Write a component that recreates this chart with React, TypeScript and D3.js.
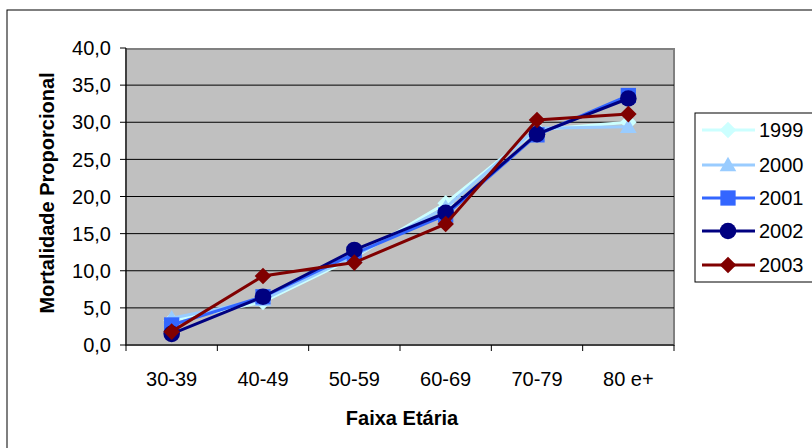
import React from "react";
import * as d3 from "d3";

const categories = ["30-39", "40-49", "50-59", "60-69", "70-79", "80 e+"];
const years = ["1999", "2000", "2001", "2002", "2003"];
const s1999 = [3.3, 5.8, 11.8, 19.1, 29.0, 30.0];
const s2000 = [3.6, 6.1, 12.0, 18.5, 29.2, 29.4];
const s2001 = [2.7, 6.5, 12.3, 17.5, 28.3, 33.6];
const s2002 = [1.5, 6.5, 12.8, 17.8, 28.4, 33.2];
const s2003 = [1.8, 9.3, 11.1, 16.3, 30.3, 31.1];
const yTicks = [0, 5, 10, 15, 20, 25, 30, 35, 40];

const seriesValues = [s1999, s2000, s2001, s2002, s2003];
const colors = ["#CCFFFF", "#99CCFF", "#3366FF", "#000080", "#800000"];
const markers = ["diamond", "triangle", "square", "circle", "diamond"];

const font = "'Liberation Sans', Arial, sans-serif";

function Marker({ type, x, y, color, size }: { type: string; x: number; y: number; color: string; size: number }) {
  const s = size;
  if (type === "diamond") {
    return <path d={`M${x},${y - s}L${x + s},${y}L${x},${y + s}L${x - s},${y}Z`} fill={color} />;
  }
  if (type === "triangle") {
    return <path d={`M${x},${y - s}L${x + s},${y + s * 0.75}L${x - s},${y + s * 0.75}Z`} fill={color} />;
  }
  if (type === "square") {
    return <rect x={x - s * 0.92} y={y - s * 0.92} width={s * 1.84} height={s * 1.84} fill={color} />;
  }
  return <circle cx={x} cy={y} r={s} fill={color} />;
}

export default function App() {
  const left = 126, right = 674, top = 49, bottom = 345;
  const x = d3.scaleBand<string>().domain(categories).range([left, right]);
  const y = d3.scaleLinear().domain([0, 40]).range([bottom, top - 1]);
  const line = d3
    .line<number>()
    .x((_, i) => (x(categories[i]) as number) + x.bandwidth() / 2)
    .y((d) => y(d));

  const legendY = [130, 165, 198, 231, 265];

  return (
    <svg width={812} height={448} style={{ position: "absolute", left: 0, top: 0, background: "#fff" }}>
      <rect x={7} y={10} width={830} height={460} fill="#fff" stroke="#000" strokeWidth={1} />
      <rect x={left} y={top} width={right - left} height={bottom - top} fill="#C0C0C0" stroke="#808080" strokeWidth={2} />
      {yTicks.map((t) => (
        <g key={t}>
          {t > 0 && t < 40 && <line x1={left} x2={right} y1={y(t)} y2={y(t)} stroke="#000" strokeWidth={1} />}
          <line x1={left - 6} x2={left} y1={y(t)} y2={y(t)} stroke="#000" />
          <text x={111} y={y(t)} dy="0.36em" textAnchor="end" fontFamily={font} fontSize={20} fill="#000">
            {t.toFixed(1).replace(".", ",")}
          </text>
        </g>
      ))}
      <line x1={left} x2={left} y1={top - 1} y2={bottom} stroke="#000" />
      <line x1={left} x2={right} y1={bottom} y2={bottom} stroke="#000" />
      {categories.map((c, i) => (
        <g key={c}>
          <line x1={(x(c) as number)} x2={(x(c) as number)} y1={bottom} y2={bottom + 6} stroke="#000" />
          {i === categories.length - 1 && (
            <line x1={right} x2={right} y1={bottom} y2={bottom + 6} stroke="#000" />
          )}
          <text x={(x(c) as number) + x.bandwidth() / 2} y={386} textAnchor="middle" fontFamily={font} fontSize={20} fill="#000">
            {c}
          </text>
        </g>
      ))}
      <text x={402} y={425} textAnchor="middle" fontFamily={font} fontSize={20} fontWeight="bold">
        Faixa Etária
      </text>
      <text transform={`translate(54,193) rotate(-90)`} textAnchor="middle" fontFamily={font} fontSize={20} fontWeight="bold">
        Mortalidade Proporcional
      </text>
      {seriesValues.map((vals, k) => (
        <g key={years[k]}>
          <path d={line(vals) as string} fill="none" stroke={colors[k]} strokeWidth={3} />
          {vals.map((v, i) => (
            <Marker key={i} type={markers[k]} x={(x(categories[i]) as number) + x.bandwidth() / 2} y={y(v)} color={colors[k]} size={8.3} />
          ))}
        </g>
      ))}
      <rect x={695} y={113} width={130} height={169} fill="#fff" stroke="#000" strokeWidth={1} />
      {years.map((yr, k) => (
        <g key={yr}>
          <line x1={702} x2={755} y1={legendY[k]} y2={legendY[k]} stroke={colors[k]} strokeWidth={3} />
          <Marker type={markers[k]} x={728} y={legendY[k]} color={colors[k]} size={8.3} />
          <text x={759} y={legendY[k]} dy="0.36em" fontFamily={font} fontSize={20} fill="#000">
            {yr}
          </text>
        </g>
      ))}
    </svg>
  );
}
